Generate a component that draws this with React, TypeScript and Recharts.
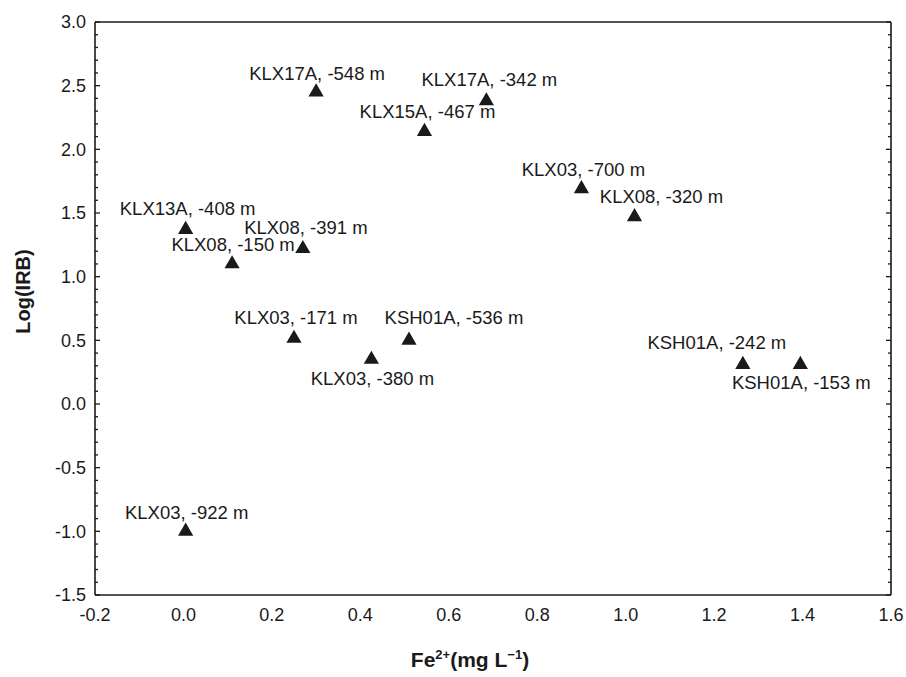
import { ScatterChart, Scatter, XAxis, YAxis, ZAxis, Symbols } from 'recharts';

// samples: borehole, depth label, Fe2+ (mg/L), log(IRB)
const samples = [
  'KLX17A, -548 m',
  'KLX17A, -342 m',
  'KLX15A, -467 m',
  'KLX13A, -408 m',
  'KLX08, -391 m',
  'KLX08, -150 m',
  'KLX03, -700 m',
  'KLX08, -320 m',
  'KLX03, -171 m',
  'KSH01A, -536 m',
  'KLX03, -380 m',
  'KSH01A, -242 m',
  'KSH01A, -153 m',
  'KLX03, -922 m',
];
const fe = [0.30, 0.685, 0.545, 0.005, 0.27, 0.11, 0.90, 1.02, 0.25, 0.51, 0.425, 1.265, 1.395, 0.005];
const logIrb = [2.45, 2.38, 2.14, 1.37, 1.22, 1.10, 1.69, 1.47, 0.515, 0.50, 0.35, 0.31, 0.31, -1.0];

const xTicks = [-0.2, 0, 0.2, 0.4, 0.6, 0.8, 1.0, 1.2, 1.4, 1.6];
const xMinorTicks = [-0.1, 0.1, 0.3, 0.5, 0.7, 0.9, 1.1, 1.3, 1.5];
const yTicks = [-1.5, -1.0, -0.5, 0, 0.5, 1.0, 1.5, 2.0, 2.5, 3.0];
const yMinorTicks = [
  -1.4, -1.3, -1.2, -1.1, -0.9, -0.8, -0.7, -0.6, -0.4, -0.3, -0.2, -0.1,
  0.1, 0.2, 0.3, 0.4, 0.6, 0.7, 0.8, 0.9, 1.1, 1.2, 1.3, 1.4,
  1.6, 1.7, 1.8, 1.9, 2.1, 2.2, 2.3, 2.4, 2.6, 2.7, 2.8, 2.9,
];

const data = samples.map((label, i) => ({ label, fe: fe[i], irb: logIrb[i] }));

const FONT = '"Liberation Sans", Arial, sans-serif';
const INK = '#1a1a1a';

// where each label sits relative to its marker (text centre)
const labelPlacement: Record<string, [number, number]> = {
  'KLX17A, -548 m': [1, -19],
  'KLX17A, -342 m': [3, -21],
  'KLX15A, -467 m': [3, -20],
  'KLX13A, -408 m': [2, -21],
  'KLX08, -391 m': [3, -21],
  'KLX08, -150 m': [1, -19],
  'KLX03, -700 m': [2, -19],
  'KLX08, -320 m': [27, -20],
  'KLX03, -171 m': [2, -21],
  'KSH01A, -536 m': [45, -23],
  'KLX03, -380 m': [1, 19],
  'KSH01A, -242 m': [-26, -22],
  'KSH01A, -153 m': [1, 18],
  'KLX03, -922 m': [1, -19],
};

const TriangleWithLabel = (props: any) => {
  const { cx, cy, payload } = props;
  const [dx, dy] = labelPlacement[payload.label] || [0, -20];
  return (
    <g>
      <Symbols type="triangle" size={100} cx={cx} cy={cy} fill={INK} />
      <text
        x={cx + dx}
        y={cy + dy}
        textAnchor="middle"
        dominantBaseline="central"
        fontFamily={FONT}
        fontSize={18.5}
        fill={INK}
      >
        {payload.label}
      </text>
    </g>
  );
};

const XTitle = ({ viewBox }: any) => (
  <text
    x={viewBox.x + viewBox.width / 2 - 23}
    y={viewBox.y + 72}
    textAnchor="middle"
    fontFamily={FONT}
    fontSize={21}
    fontWeight="bold"
    fill={INK}
  >
    Fe
    <tspan dy={-8} fontSize={13}>2+</tspan>
    <tspan dy={8}>(mg L</tspan>
    <tspan dy={-8} fontSize={13}>−1</tspan>
    <tspan dy={8}>)</tspan>
  </text>
);

const YTitle = ({ viewBox }: any) => {
  const x = viewBox.x + 23;
  const y = viewBox.y + viewBox.height / 2 - 17;
  return (
    <text
      x={x}
      y={y}
      transform={`rotate(-90, ${x}, ${y})`}
      textAnchor="middle"
      dominantBaseline="central"
      fontFamily={FONT}
      fontSize={20}
      fontWeight="bold"
      fill={INK}
    >
      Log(IRB)
    </text>
  );
};

const tickStyle = { fontSize: 18, fontFamily: FONT, fill: INK };
const frame = { stroke: INK, strokeWidth: 1.6 };
const tickStroke = { stroke: INK, strokeWidth: 1.3 };
const noLabel = () => '';

// tick-only axes (labels blanked) so the marks point into the plot on every side
const tickAxis = {
  type: 'number' as const,
  mirror: true,
  tickFormatter: noLabel,
  interval: 0 as const,
  tickLine: tickStroke,
  allowDataOverflow: true,
};

export default function App() {
  return (
    <div style={{ position: 'absolute', left: 0, top: 0, background: '#fff' }}>
      <ScatterChart
        width={906}
        height={677}
        margin={{ top: 22, right: 15, bottom: 32, left: 0 }}
      >
        <XAxis
          xAxisId="x"
          dataKey="fe"
          type="number"
          domain={[-0.2, 1.6]}
          ticks={xTicks}
          tickFormatter={(v) => v.toFixed(1)}
          tick={tickStyle}
          tickLine={false}
          tickMargin={7}
          axisLine={frame}
          height={50}
          allowDataOverflow
          label={<XTitle />}
        />
        <YAxis
          yAxisId="y"
          dataKey="irb"
          type="number"
          domain={[-1.5, 3]}
          ticks={yTicks}
          tickFormatter={(v) => v.toFixed(1)}
          tick={tickStyle}
          tickLine={false}
          tickMargin={3}
          axisLine={frame}
          width={95}
          allowDataOverflow
          label={<YTitle />}
        />

        <XAxis {...tickAxis} xAxisId="bMaj" domain={[-0.2, 1.6]} ticks={xTicks} height={0.01} tickSize={5} axisLine={false} />
        <XAxis {...tickAxis} xAxisId="bMin" domain={[-0.2, 1.6]} ticks={xMinorTicks} height={0.01} tickSize={3} axisLine={false} />
        <XAxis {...tickAxis} xAxisId="tMaj" orientation="top" domain={[-0.2, 1.6]} ticks={xTicks} height={0.01} tickSize={5} axisLine={frame} />
        <XAxis {...tickAxis} xAxisId="tMin" orientation="top" domain={[-0.2, 1.6]} ticks={xMinorTicks} height={0.01} tickSize={3} axisLine={false} />
        <YAxis {...tickAxis} yAxisId="lMaj" domain={[-1.5, 3]} ticks={yTicks} width={0.01} tickSize={5} axisLine={false} />
        <YAxis {...tickAxis} yAxisId="lMin" domain={[-1.5, 3]} ticks={yMinorTicks} width={0.01} tickSize={3} axisLine={false} />
        <YAxis {...tickAxis} yAxisId="rMaj" orientation="right" domain={[-1.5, 3]} ticks={yTicks} width={0.01} tickSize={5} axisLine={frame} />
        <YAxis {...tickAxis} yAxisId="rMin" orientation="right" domain={[-1.5, 3]} ticks={yMinorTicks} width={0.01} tickSize={3} axisLine={false} />

        <ZAxis range={[100, 100]} />
        <Scatter
          xAxisId="x"
          yAxisId="y"
          data={data}
          fill={INK}
          shape={<TriangleWithLabel />}
          isAnimationActive={false}
        />
      </ScatterChart>
    </div>
  );
}
